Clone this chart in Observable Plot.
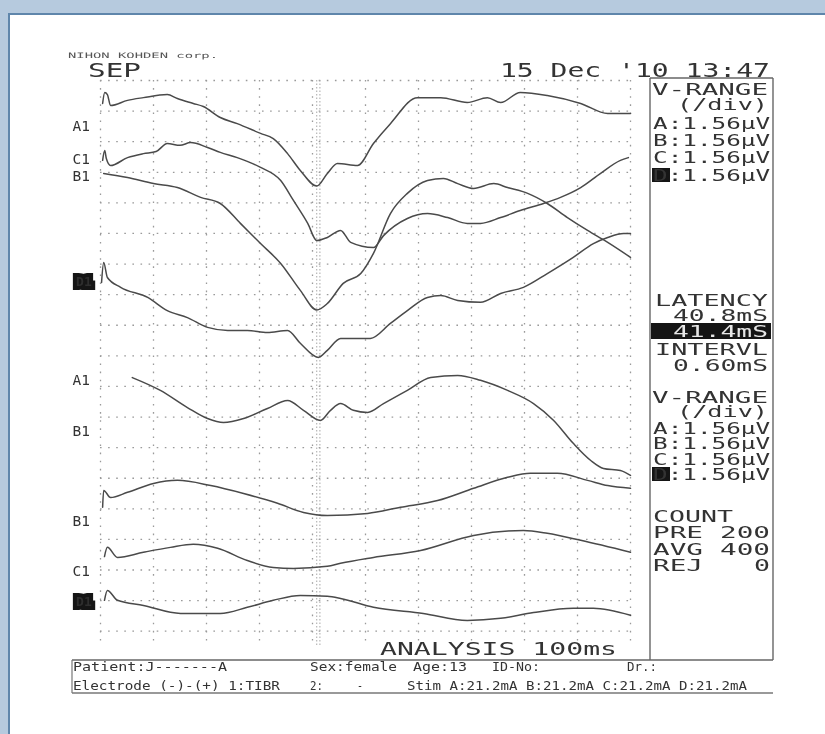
<!DOCTYPE html>
<html>
<head>
<meta charset="utf-8">
<script src="https://cdn.jsdelivr.net/npm/d3@7"></script>
<script src="https://cdn.jsdelivr.net/npm/@observablehq/plot@0.6"></script>
<style>
  html, body { margin: 0; padding: 0; background: #b6cade; overflow: hidden; width: 825px; height: 734px; }
  #page { position: relative; width: 825px; height: 734px; background: #b6cade; overflow: hidden; filter: blur(0.3px); }
  #paper { position: absolute; left: 8px; top: 13px; right: 0; bottom: 0; background: #fff;
           border-left: 2px solid #5f86ab; border-top: 2px solid #5f86ab; }
  #chart, #overlay { position: absolute; left: 0; top: 0; }
  #overlay { pointer-events: none; }
</style>
</head>
<body>
<div id="page">
  <div id="paper"></div>
  <div id="chart"></div>
  <svg id="overlay" width="825" height="734"></svg>
</div>
<script>
// ---------- data: time in ms (0-100), vertical position in divisions from top ----------
const gridTimes = [0, 10, 20, 30, 40, 50, 60, 70, 80, 90, 100];
const gridDivs = [0, 1, 2, 3, 4, 5, 6, 7, 8, 9, 10, 11, 12, 13, 14, 15, 16, 17, 18];
const cursorTimes = [40.8, 41.4];

const upperA1 = [[0.4,0.75],[0.8,0.39],[1.3,0.46],[1.9,0.82],[5.1,0.65],[8.1,0.56],[12.6,0.46],[14.5,0.59],[17.5,0.75],[19.4,0.85],[22.6,1.21],[25.8,1.41],[30.2,1.73],[32.6,1.90],[35.3,2.39],[37.7,2.94],[40.8,3.45],[42.8,3.04],[44.7,2.71],[48.5,2.78],[51.5,2.06],[54.7,1.41],[59.8,0.56],[64.2,0.56],[69.2,0.72],[73.0,0.56],[75.5,0.72],[79.2,0.39],[84.3,0.49],[90.6,0.75],[95.7,1.08],[100,1.08]];
const upperC1 = [[0.4,2.61],[0.8,2.29],[1.1,2.55],[1.9,2.78],[5.1,2.52],[8.1,2.39],[10.5,2.32],[12.6,2.06],[15.0,2.12],[17.0,2.03],[20.2,2.19],[22.6,2.35],[25.8,2.52],[30.2,2.84],[34.0,3.27],[36.4,3.92],[39.1,4.67],[40.8,5.23],[42.8,5.13],[45.3,4.90],[47.2,5.29],[51.5,5.46],[53.4,5.07],[57.9,4.51],[61.7,4.35],[65.5,4.48],[69.2,4.67],[71.7,4.67],[75.5,4.48],[79.2,4.25],[83.6,4.02],[86.8,3.82],[90.6,3.50],[94.3,3.04],[98.1,2.61],[99.6,2.52]];
const upperB1 = [[0.6,3.04],[5.1,3.17],[10.0,3.37],[14.5,3.50],[18.9,3.82],[22.6,4.02],[26.4,4.67],[30.2,5.33],[34.0,5.98],[37.7,6.86],[40.8,7.50],[42.8,7.29],[45.8,6.63],[49.1,6.31],[51.5,5.65],[54.7,4.35],[57.9,3.69],[61.7,3.27],[64.7,3.20],[67.4,3.37],[70.4,3.53],[74.2,3.37],[76.8,3.50],[80.6,3.69],[84.3,4.02],[88.1,4.48],[91.9,4.90],[95.7,5.29],[100,5.78]];
const upperD1 = [[0.2,6.60],[0.6,5.95],[1.3,6.44],[3.8,6.76],[8.9,7.09],[12.6,7.52],[16.4,7.75],[20.2,8.07],[24.0,8.17],[27.7,8.17],[31.5,8.24],[35.3,8.17],[37.7,8.59],[41.1,9.05],[42.8,8.82],[45.3,8.43],[50.9,8.43],[54.7,7.94],[57.9,7.52],[61.7,7.09],[64.2,7.03],[67.4,7.19],[71.7,7.25],[75.5,6.96],[79.8,6.76],[84.3,6.31],[89.2,5.78],[93.0,5.33],[95.7,5.13],[98.7,5.00],[100,5.00]];
const lowerA1 = [[6.0,9.71],[11.3,10.13],[16.4,10.69],[20.2,11.05],[23.2,11.18],[27.0,11.05],[31.5,10.72],[35.3,10.46],[38.3,10.78],[41.5,11.11],[43.4,10.78],[45.3,10.56],[47.7,10.78],[50.4,10.85],[53.4,10.56],[57.9,10.13],[62.3,9.71],[67.4,9.64],[71.7,9.80],[76.8,10.13],[81.7,10.56],[85.5,11.11],[89.2,11.86],[92.5,12.42],[94.9,12.68],[98.1,12.75],[100,12.91]];
const lowerB1 = [[0.4,13.95],[0.6,13.40],[1.9,13.63],[5.1,13.46],[10.0,13.17],[14.5,13.07],[20.8,13.24],[27.0,13.50],[33.4,13.82],[38.3,14.12],[42.8,14.22],[50.4,14.15],[56.6,13.95],[63.6,13.73],[70.4,13.33],[76.8,12.97],[81.1,12.84],[86.2,12.84],[91.9,13.07],[95.7,13.24],[100,13.33]];
const lowerC1 = [[0.75,15.56],[1.3,15.26],[3.2,15.59],[8.1,15.42],[13.2,15.26],[17.5,15.16],[22.1,15.29],[27.7,15.69],[32.6,15.92],[36.4,15.95],[42.8,15.88],[45.3,15.78],[51.5,15.59],[60.4,15.36],[70.4,14.87],[79.8,14.71],[84.3,14.80],[90.6,15.03],[100,15.42]];
const lowerD1 = [[0.75,16.99],[1.3,16.67],[3.2,16.99],[8.1,17.16],[15.1,17.42],[22.6,17.42],[27.7,17.22],[32.6,16.99],[37.7,16.83],[42.8,16.86],[45.3,16.93],[51.5,17.22],[60.9,17.42],[69.2,17.65],[75.5,17.58],[81.7,17.39],[89.2,17.25],[93.0,17.25],[100,17.48]];

const traces = [upperA1, upperC1, upperB1, upperD1, lowerA1, lowerB1, lowerC1, lowerD1];

const labelNames = ["A1", "C1", "B1", "D1", "A1", "B1", "B1", "C1", "D1"];
const labelDivs  = [1.50, 2.58, 3.14, 6.57, 9.80, 11.47, 14.41, 16.05, 17.03];
const labelInverted = [false, false, false, true, false, false, false, false, true];
const labelTime = -5.3;

// ---------- chart ----------
const labels = labelNames.map((name, i) => ({name, d: labelDivs[i], inv: labelInverted[i]}));
const traceMarks = traces.map(tr => Plot.line(tr, {
  x: d => d[0], y: d => d[1], stroke: "#4a4a4a", strokeWidth: 1.5, curve: "monotone-x"
}));

const plot = Plot.plot({
  width: 825, height: 734,
  marginLeft: 100, marginRight: 195, marginTop: 80, marginBottom: 88,
  style: "background: transparent; overflow: visible;",
  x: {domain: [0, 100], axis: null},
  y: {domain: [0, 18.5], reverse: true, axis: null},
  marks: [
    Plot.ruleX(gridTimes, {stroke: "#9a9a9a", strokeWidth: 1.3, strokeDasharray: "1.6,6.5"}),
    Plot.ruleY(gridDivs, {stroke: "#9a9a9a", strokeWidth: 1.3, strokeDasharray: "1.6,6.5"}),
    Plot.ruleX(cursorTimes, {stroke: "#a8a8a8", strokeWidth: 1, strokeDasharray: "1.5,2"}),
    ...traceMarks,
    Plot.text(labels.filter(l => !l.inv), {
      x: () => labelTime, y: "d", text: "name", textAnchor: "start",
      fontFamily: "DejaVu Sans Mono", fontSize: 14.5, fill: "#333"
    }),
    Plot.text(labels.filter(l => l.inv), {
      x: () => labelTime + 0.7, y: "d", text: "name", textAnchor: "start",
      fontFamily: "DejaVu Sans Mono", fontSize: 13, fontWeight: "bold", fill: "#2e2e2e",
      stroke: "#151515", strokeWidth: 8, strokeLinejoin: "miter", paintOrder: "stroke"
    })
  ]
});
document.getElementById("chart").appendChild(plot);

// ---------- printed header / panel / footer text ----------
const ov = d3.select("#overlay");
const FONT = "DejaVu Sans Mono";
function txt(s, x, y, w, size, fill = "#333") {
  return ov.append("text").attr("x", x).attr("y", y)
    .attr("textLength", w).attr("lengthAdjust", "spacingAndGlyphs")
    .attr("font-family", FONT).attr("font-size", size).attr("fill", fill).text(s);
}
function box(x, y, w, h, fill) {
  ov.append("rect").attr("x", x).attr("y", y).attr("width", w).attr("height", h).attr("fill", fill);
}
function line(x1, y1, x2, y2, c = "#666", sw = 1.4) {
  ov.append("line").attr("x1", x1).attr("y1", y1).attr("x2", x2).attr("y2", y2)
    .attr("stroke", c).attr("stroke-width", sw);
}

// header
txt("NIHON KOHDEN corp.", 68, 58, 150, 7.5, "#555");
txt("SEP", 88, 77, 53, 19);
txt("15 Dec '10 13:47", 500, 77, 270, 19);

// right panel frame
line(650, 78, 773, 78);
line(650, 78, 650, 660);
line(773, 78, 773, 660);

// right panel text
const PS = 16;
txt("V-RANGE", 652, 95, 116, PS);
txt("(/div)", 677, 110, 91, PS);
txt("A:1.56µV", 653, 129, 117, PS);
txt("B:1.56µV", 653, 146, 117, PS);
txt("C:1.56µV", 653, 163, 117, PS);
box(652, 168, 18, 14, "#151515");
txt("D:1.56µV", 653, 181, 117, PS);

txt("LATENCY", 655, 306, 113, PS);
txt("40.8mS", 673, 321, 95, PS);
box(651, 323, 120, 16, "#151515");
txt("41.4mS", 673, 337, 95, PS, "#e6e6e6");
txt("INTERVL", 655, 355, 113, PS);
txt("0.60mS", 673, 371, 95, PS);

txt("V-RANGE", 652, 403, 116, PS);
txt("(/div)", 677, 417, 91, PS);
txt("A:1.56µV", 653, 434, 117, PS);
txt("B:1.56µV", 653, 449, 117, PS);
txt("C:1.56µV", 653, 465, 117, PS);
box(652, 467, 18, 14, "#151515");
txt("D:1.56µV", 653, 480, 117, PS);

txt("COUNT", 653, 522, 80, PS);
txt("PRE", 653, 538, 50, PS); txt("200", 720, 538, 50, PS);
txt("AVG", 653, 555, 50, PS); txt("400", 720, 555, 50, PS);
txt("REJ", 653, 571, 50, PS); txt("0", 754, 571, 16, PS);

// bottom
txt("ANALYSIS 100ms", 380, 655, 237, 18);
line(72, 660, 773, 660, "#666", 1.6);
line(72, 693, 773, 693, "#777", 1.6);
line(72, 660, 72, 693, "#777", 1.2);
const FS = 11.5;
txt("Patient:J-------A", 73, 671, 154, FS);
txt("Sex:female", 310, 671, 87, FS);
txt("Age:13", 413, 671, 54, FS);
txt("ID-No:", 492, 671, 48, FS);
txt("Dr.:", 627, 671, 30, FS);
txt("Electrode (-)-(+) 1:TIBR", 73, 690, 207, FS);
txt("2:", 310, 690, 13, FS);
txt("-", 357, 690, 6, FS);
txt("Stim A:21.2mA B:21.2mA C:21.2mA D:21.2mA", 407, 690, 340, FS);
</script>
</body>
</html>
